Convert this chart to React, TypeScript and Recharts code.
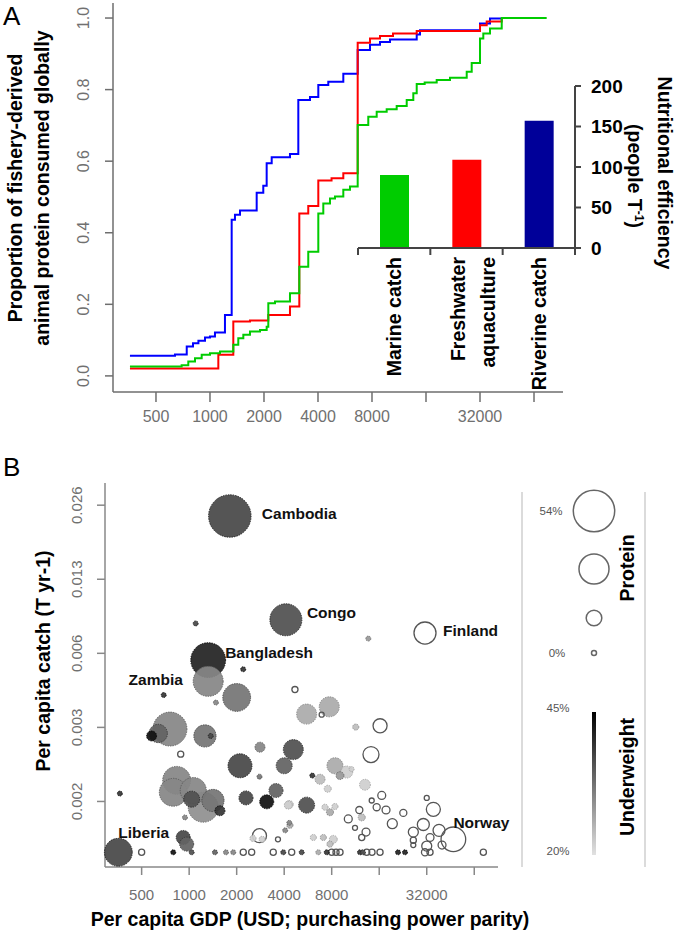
import React from 'react';
import { LineChart, Line, XAxis, YAxis, BarChart, Bar, Cell, ScatterChart, Scatter } from 'recharts';

// ---------------- Panel A data ----------------
const gdpTicks = [500, 1000, 2000, 4000, 8000, 16000, 32000, 64000];
const gdpTickLabels = ['500', '1000', '2000', '4000', '8000', '', '32000', ''];
const shareTicks = [0, 0.2, 0.4, 0.6, 0.8, 1.0];

// cumulative share of fishery-derived protein vs per capita GDP (step curves)
const riverineCurve: [number, number][] = [
  [358, 0.056], [638, 0.06], [742, 0.082], [804, 0.091], [862, 0.098], [938, 0.107],
  [1000, 0.11], [1066, 0.121], [1212, 0.17], [1321, 0.436], [1378, 0.45], [1470, 0.462],
  [1821, 0.512], [1982, 0.531], [2070, 0.594], [2208, 0.611], [2792, 0.62], [3107, 0.771],
  [3610, 0.779], [4016, 0.813], [4565, 0.822], [5536, 0.844], [6658, 0.911], [7797, 0.925],
  [8866, 0.933], [10078, 0.94], [14202, 0.954], [14815, 0.966], [32000, 0.985],
  [36380, 0.999], [42284, 1.0],
];
const freshwaterCurve: [number, number][] = [
  [358, 0.021], [1113, 0.059], [1349, 0.152], [1671, 0.155], [2114, 0.17], [2792, 0.194],
  [3147, 0.454], [3530, 0.475], [4016, 0.546], [4760, 0.552], [5536, 0.566], [6658, 0.931],
  [7797, 0.943], [8866, 0.95], [10476, 0.957], [14202, 0.964], [32000, 0.98], [34873, 0.99],
  [42284, 1.0],
];
const marineCurve: [number, number][] = [
  [358, 0.026], [695, 0.03], [757, 0.04], [825, 0.049], [899, 0.059], [1000, 0.063],
  [1137, 0.068], [1349, 0.087], [1438, 0.105], [1534, 0.115], [1671, 0.124], [1900, 0.128],
  [2070, 0.137], [2114, 0.203], [2303, 0.208], [2792, 0.231], [3147, 0.305], [3530, 0.347],
  [4016, 0.454], [4282, 0.482], [4666, 0.496], [4976, 0.501], [5536, 0.52], [6033, 0.529],
  [6658, 0.701], [7627, 0.724], [8497, 0.738], [9660, 0.745], [10983, 0.754], [12491, 0.771],
  [13594, 0.79], [14202, 0.816], [15730, 0.82], [18355, 0.827], [21772, 0.833], [26982, 0.85],
  [28767, 0.874], [32000, 0.943], [33384, 0.957], [36380, 0.971], [42284, 1.0], [75300, 1.0],
];

const efficiencyCategories = ['Marine catch', 'Freshwater\naquaculture', 'Riverine catch'];
const efficiencyValues = [90, 109, 157];
const efficiencyColors = ['#00cc00', '#ff0000', '#000099'];
const efficiencyTicks = [0, 50, 100, 150, 200];

// ---------------- Panel B data ----------------
const catchTicks = [0.001625, 0.00325, 0.0065, 0.013, 0.026];
const catchTickLabels = ['0.002', '0.003', '0.006', '0.013', '0.026'];

// [gdp, per capita catch, protein %, underweight %, name]
const filledCountries: [number, number, number, number, string?][] = [
  [1810, 0.0235, 57, 37, 'Cambodia'], [4100, 0.0089, 32, 36, 'Congo'],
  [1320, 0.0061, 38, 41, 'Bangladesh'], [1320, 0.005, 28, 30], [2000, 0.0043, 24, 32],
  [756, 0.0032, 36, 30], [637, 0.00307, 10, 34], [578, 0.003, 2.4, 43], [1259, 0.003, 15, 32],
  [1370, 0.003, 0, 37], [1100, 0.0086, 0, 37], [2200, 0.0056, 0, 39], [690, 0.0044, 0, 39, 'Zambia'],
  [1478, 0.0041, 0, 30], [2810, 0.0027, 2.4, 30], [2100, 0.00227, 17.6, 37], [4000, 0.00227, 7.4, 34],
  [4570, 0.00264, 12, 36], [833, 0.00198, 24, 30], [793, 0.00177, 24, 30], [1062, 0.0018, 21, 30],
  [1228, 0.00154, 28, 29], [1415, 0.00164, 15, 32], [1037, 0.00166, 7.4, 36], [1567, 0.00149, 2.4, 39],
  [364, 0.00175, 0, 39], [2790, 0.00205, 0, 32], [2291, 0.00168, 5.5, 37], [3099, 0.00162, 5.5, 43],
  [3550, 0.0018, 5.5, 34], [4310, 0.00158, 1.2, 22], [941, 0.0014, 0, 30], [917, 0.00116, 5.5, 37],
  [964, 0.00109, 5.5, 34], [356, 0.00101, 24, 37, 'Liberia'], [4310, 0.00133, 0, 30],
  [7720, 0.00394, 12, 26], [5550, 0.00368, 12, 26], [11360, 0.00326, 0.4, 24], [8390, 0.00227, 7.4, 26],
  [9960, 0.00214, 3.8, 22], [9030, 0.00207, 1.2, 28], [10700, 0.0022, 0, 22], [6030, 0.00207, 0, 39],
  [6745, 0.002, 2.4, 24], [7550, 0.00183, 0.8, 22], [13000, 0.0019, 3, 22], [5550, 0.00157, 7.4, 36],
  [4246, 0.00157, 1.2, 22], [7255, 0.00154, 0.4, 22], [8390, 0.00155, 0.4, 22], [7800, 0.00147, 0.8, 26],
  [12400, 0.0014, 0.8, 24], [6120, 0.00116, 0.4, 22], [7080, 0.00116, 0.4, 24], [8190, 0.00114, 1.2, 22],
  [7800, 0.00109, 0.4, 24], [4350, 0.0013, 0.4, 26], [13650, 0.00746, 0, 28], [2537, 0.00115, 0.4, 22],
  [2900, 0.00114, 0.4, 22], [4060, 0.00124, 0, 30],
  [793, 0.00101, 0, 43], [1037, 0.00101, 0, 36], [1457, 0.00101, 0, 34], [1711, 0.00101, 0, 30],
  [1903, 0.00101, 0, 30], [3948, 0.00101, 0, 37], [5163, 0.00101, 0, 37], [6580, 0.00101, 0, 26],
  [7440, 0.00101, 0, 39], [12090, 0.00101, 0, 39], [12630, 0.00101, 0, 36], [21050, 0.00101, 0, 41],
  [23310, 0.00101, 0, 41],
];
// [gdp, per capita catch, protein %, name] - no underweight data (open circles)
const openCountries: [number, number, number, string?][] = [
  [31200, 0.00786, 14.7, 'Finland'], [47200, 0.00114, 18.6, 'Norway'], [4680, 0.00463, 0.4],
  [6910, 0.00366, 0], [16200, 0.0033, 5.5], [14190, 0.00252, 7.4], [884, 0.00253, 0.4],
  [2790, 0.00118, 5.5], [16600, 0.00172, 1.2], [14340, 0.00164, 0], [15420, 0.00154, 0.8],
  [17670, 0.0015, 1.2], [11970, 0.0015, 0.8], [10190, 0.00138, 1.2], [22740, 0.00146, 0.8],
  [19370, 0.00132, 2.4], [35240, 0.00151, 5.5], [32000, 0.00168, 0], [30450, 0.00131, 3.8],
  [38290, 0.00124, 3.8], [26320, 0.00122, 2.4], [33570, 0.00116, 1.2], [32000, 0.00107, 2.4],
  [26320, 0.00113, 0.4], [13200, 0.00122, 1.2], [11240, 0.00127, 0], [12400, 0.00116, 0.4],
  [3653, 0.00114, 0], [40000, 0.00108, 1.2], [26300, 0.00108, 0],
  [500, 0.00101, 0.4], [2202, 0.00101, 0.4], [2490, 0.00101, 0.4], [3410, 0.00101, 0.4],
  [4463, 0.00101, 0.4], [8000, 0.00101, 0.4], [8520, 0.00101, 0.4], [9030, 0.00101, 0.4],
  [13330, 0.00101, 0.4], [14400, 0.00101, 0.4], [16190, 0.00101, 0.4], [31200, 0.00101, 0.8],
  [33570, 0.00101, 0.4], [73100, 0.00101, 0.4],
];
const proteinLegend = [54, 28, 7, 0];
const underweightRange = [20, 45];

// ---------------- styling helpers ----------------
const FONT = "'Liberation Sans', Arial, Helvetica, sans-serif";
const AXIS_GRAY = '#6e6e6e';
const TICK_GRAY = '#707070';

const rOf = (p: number) => Math.sqrt(6.25 + 7.82 * p);
const grayLevel = (u: number) => {
  const t = Math.max(0, Math.min(1, (u - underweightRange[0]) / (underweightRange[1] - underweightRange[0])));
  return Math.round(225 * (1 - t));
};
const rgb = (g: number) => `rgb(${g},${g},${g})`;

const LABEL_OFFSETS: Record<string, { dx: number; dy: number; anchor: string }> = {
  Cambodia: { dx: 32, dy: -3, anchor: 'start' },
  Congo: { dx: 21, dy: -7, anchor: 'start' },
  Bangladesh: { dx: 17, dy: -8, anchor: 'start' },
  Zambia: { dx: -8, dy: -16, anchor: 'middle' },
  Liberia: { dx: 0, dy: -20, anchor: 'start' },
  Finland: { dx: 18, dy: -3, anchor: 'start' },
  Norway: { dx: 0, dy: -17, anchor: 'start' },
};

const toCurve = (arr: [number, number][]) => arr.map(([gdp, share]) => ({ gdp, share }));

const bubbles = [
  ...filledCountries.map(([gdp, c, protein, underweight, name]) => ({ gdp, catch: c, protein, underweight, name })),
  ...openCountries.map(([gdp, c, protein, name]) => ({ gdp, catch: c, protein, underweight: null as number | null, name })),
].sort((a, b) => b.protein - a.protein);
const labelled = bubbles.filter((b) => b.name);

const efficiencyData = efficiencyCategories.map((name, i) => ({ name, value: efficiencyValues[i] }));

// ---------------- custom ticks & shapes ----------------
const RotYTick = (labels: (v: number) => string, fontSize: number) => (p: any) => {
  const { x, y, payload } = p;
  return (
    <text x={x} y={y} dy="0.36em" transform={`rotate(-90 ${x} ${y})`} textAnchor="middle"
      fill={TICK_GRAY} fontSize={fontSize} fontFamily={FONT}>
      {labels(payload.value)}
    </text>
  );
};

const CatTick = (p: any) => {
  const { x, y, payload, width, visibleTicksCount, index } = p;
  const band = width && visibleTicksCount ? Number(width) / visibleTicksCount : 0;
  const lines = String(payload.value).split('\n');
  const axisY = y - 9;
  return (
    <g>
      {band ? <line x1={x - band / 2} x2={x - band / 2} y1={axisY} y2={axisY + 7} stroke="#444" strokeWidth={2} /> : null}
      {band && index === visibleTicksCount - 1 ? (
        <line x1={x + band / 2} x2={x + band / 2} y1={axisY} y2={axisY + 7} stroke="#444" strokeWidth={2} />
      ) : null}
      {lines.map((ln, i) => {
        const lx = x + (lines.length > 1 ? (i - (lines.length - 1) / 2) * 30 + 6 : 0);
        return (
          <text key={i} x={lx} y={y} transform={`rotate(-90 ${lx} ${y})`} textAnchor="end" dy="0.36em"
            fontSize={19.5} fontWeight="bold" fontFamily={FONT} fill="#000">
            {ln}
          </text>
        );
      })}
    </g>
  );
};

const Bubble = (props: any) => {
  const { cx, cy, payload } = props;
  if (cx == null || cy == null || !payload) return null;
  const r = rOf(payload.protein);
  if (payload.underweight == null) {
    return <circle cx={cx} cy={cy} r={r} fill="none" stroke="#555" strokeWidth={1.3} />;
  }
  const g = grayLevel(payload.underweight);
  return (
    <circle cx={cx} cy={cy} r={r} fill={rgb(g)} fillOpacity={0.93}
      stroke={rgb(Math.max(0, g - 45))} strokeWidth={0.9} strokeDasharray="1.4 1.1" />
  );
};

const LabelShape = (props: any) => {
  const { cx, cy, payload } = props;
  if (cx == null || cy == null || !payload || !payload.name) return null;
  const o = LABEL_OFFSETS[payload.name];
  if (!o) return null;
  return (
    <text x={cx + o.dx} y={cy + o.dy} dy="0.36em" textAnchor={o.anchor as any}
      fontSize={15.5} fontWeight="bold" fontFamily={FONT} fill="#111">
      {payload.name}
    </text>
  );
};

const gdpFormatter = (v: number) => {
  const i = gdpTicks.indexOf(v);
  return i >= 0 ? gdpTickLabels[i] : '';
};
const catchFormatter = (v: number) => {
  const i = catchTicks.indexOf(v);
  return i >= 0 ? catchTickLabels[i] : '';
};

const rotText = (x: number, y: number, angle: number, text: React.ReactNode, extra: any = {}) => (
  <text x={x} y={y} dy="0.36em" transform={`rotate(${angle} ${x} ${y})`} textAnchor="middle"
    fontFamily={FONT} fontWeight="bold" fontSize={19.5} fill="#000" {...extra}>
    {text}
  </text>
);

export default function App() {
  return (
    <div style={{ position: 'absolute', left: 0, top: 0, width: 677, height: 934, background: '#fff', overflow: 'hidden' }}>
      {/* Panel A: cumulative step curves */}
      <div style={{ position: 'absolute', left: 0, top: 0 }}>
        <LineChart width={677} height={450} margin={{ top: 3, right: 114, bottom: 0, left: 0 }}>
          <XAxis type="number" dataKey="gdp" scale="log" domain={[288, 92850]}
            ticks={gdpTicks} tickFormatter={gdpFormatter} interval={0} height={58}
            tickSize={10} tickMargin={9}
            axisLine={{ stroke: AXIS_GRAY, strokeWidth: 1.5 }} tickLine={{ stroke: AXIS_GRAY, strokeWidth: 1.5 }}
            tick={{ fill: TICK_GRAY, fontSize: 16, fontFamily: FONT }} />
          <YAxis type="number" dataKey="share" domain={[-0.045, 1.042]}
            ticks={shareTicks} interval={0} width={113} tickSize={8} tickMargin={22}
            axisLine={{ stroke: AXIS_GRAY, strokeWidth: 1.5 }} tickLine={{ stroke: AXIS_GRAY, strokeWidth: 1.5 }}
            tick={RotYTick((v) => Number(v).toFixed(1), 16)} />
          <Line data={toCurve(riverineCurve)} dataKey="share" type="stepAfter" stroke="#0000ff" strokeWidth={2}
            dot={false} isAnimationActive={false} />
          <Line data={toCurve(freshwaterCurve)} dataKey="share" type="stepAfter" stroke="#ff0000" strokeWidth={2}
            dot={false} isAnimationActive={false} />
          <Line data={toCurve(marineCurve)} dataKey="share" type="stepAfter" stroke="#00cc00" strokeWidth={2}
            dot={false} isAnimationActive={false} />
        </LineChart>
      </div>

      {/* Panel A inset: nutritional efficiency bars */}
      <div style={{ position: 'absolute', left: 0, top: 0 }}>
        <BarChart width={677} height={450} data={efficiencyData} margin={{ top: 86, right: 0, bottom: 0, left: 358 }}>
          <XAxis dataKey="name" height={202} tickSize={0} tickMargin={9} interval={0}
            axisLine={{ stroke: '#444', strokeWidth: 2 }} tickLine={false} tick={CatTick} />
          <YAxis orientation="right" domain={[0, 200]} ticks={efficiencyTicks} interval={0} width={102}
            tickSize={6} tickMargin={10}
            axisLine={{ stroke: '#444', strokeWidth: 2 }} tickLine={{ stroke: '#444', strokeWidth: 2 }}
            tick={{ fill: '#000', fontSize: 19, fontWeight: 'bold', fontFamily: FONT }} />
          <Bar dataKey="value" barSize={29} isAnimationActive={false}>
            {efficiencyData.map((d, i) => (
              <Cell key={d.name} fill={efficiencyColors[i]} />
            ))}
          </Bar>
        </BarChart>
      </div>

      {/* Panel B: bubble scatter */}
      <div style={{ position: 'absolute', left: 0, top: 460 }}>
        <ScatterChart width={677} height={474} margin={{ top: 23, right: 179, bottom: 0, left: 0 }}>
          <XAxis type="number" dataKey="gdp" scale="log" domain={[293, 90500]}
            ticks={gdpTicks} tickFormatter={gdpFormatter} interval={0} height={67}
            tickSize={8} tickMargin={14}
            axisLine={{ stroke: '#888', strokeWidth: 1.5 }} tickLine={{ stroke: '#888', strokeWidth: 1.5 }}
            tick={{ fill: TICK_GRAY, fontSize: 15, fontFamily: FONT }} />
          <YAxis type="number" dataKey="catch" scale="log" domain={[0.00088, 0.032]}
            ticks={catchTicks} interval={0} width={105} tickSize={8} tickMargin={20}
            axisLine={{ stroke: '#888', strokeWidth: 1.5 }} tickLine={{ stroke: '#888', strokeWidth: 1.5 }}
            tick={RotYTick(catchFormatter, 15)} />
          <Scatter data={bubbles} shape={Bubble} isAnimationActive={false} />
          <Scatter data={labelled} shape={LabelShape} isAnimationActive={false} />
        </ScatterChart>
      </div>

      {/* Titles, panel letters and legend */}
      <svg width={677} height={934} style={{ position: 'absolute', left: 0, top: 0, pointerEvents: 'none' }}>
        <defs>
          <linearGradient id="uwGrad" x1="0" y1="0" x2="0" y2="1">
            <stop offset="0%" stopColor={rgb(grayLevel(underweightRange[1]))} />
            <stop offset="100%" stopColor={rgb(grayLevel(underweightRange[0]))} />
          </linearGradient>
        </defs>
        <text x={3} y={25} fontSize={26} fontFamily={FONT} fill="#000">A</text>
        <text x={3} y={476} fontSize={26} fontFamily={FONT} fill="#000">B</text>

        {rotText(15, 188, -90, 'Proportion of fishery-derived')}
        {rotText(42, 188, -90, 'animal protein consumed globally')}

        {rotText(665, 173, 90, 'Nutritional efficiency')}
        {rotText(635, 176, 90, (
          <>
            <tspan>(people T</tspan>
            <tspan dy="-7" fontSize={12}>-1</tspan>
            <tspan dy="7">)</tspan>
          </>
        ))}

        {rotText(43, 661, -90, 'Per capita catch (T yr-1)')}
        <text x={310} y={926} textAnchor="middle" fontFamily={FONT} fontWeight="bold" fontSize={19.5} fill="#000">
          Per capita GDP (USD; purchasing power parity)
        </text>

        {/* legend */}
        <line x1={522} x2={522} y1={492} y2={867} stroke="#cfcfcf" strokeWidth={1.5} />
        <line x1={645} x2={645} y1={492} y2={867} stroke="#cfcfcf" strokeWidth={1.5} />
        {proteinLegend.map((p, i) => (
          <circle key={p} cx={594} cy={[511, 569, 618, 653][i]} r={rOf(p)} fill="none" stroke="#666" strokeWidth={1.5} />
        ))}
        <text x={551} y={511} dy="0.36em" textAnchor="middle" fontSize={11.5} fontFamily={FONT} fill="#555">{`${proteinLegend[0]}%`}</text>
        <text x={557} y={653} dy="0.36em" textAnchor="middle" fontSize={11.5} fontFamily={FONT} fill="#555">{`${proteinLegend[3]}%`}</text>
        {rotText(627, 568, -90, 'Protein')}
        <rect x={592} y={712} width={4} height={143} fill="url(#uwGrad)" />
        <text x={558} y={708} dy="0.36em" textAnchor="middle" fontSize={11.5} fontFamily={FONT} fill="#555">{`${underweightRange[1]}%`}</text>
        <text x={558} y={851} dy="0.36em" textAnchor="middle" fontSize={11.5} fontFamily={FONT} fill="#555">{`${underweightRange[0]}%`}</text>
        {rotText(627, 777, -90, 'Underweight')}
      </svg>
    </div>
  );
}
